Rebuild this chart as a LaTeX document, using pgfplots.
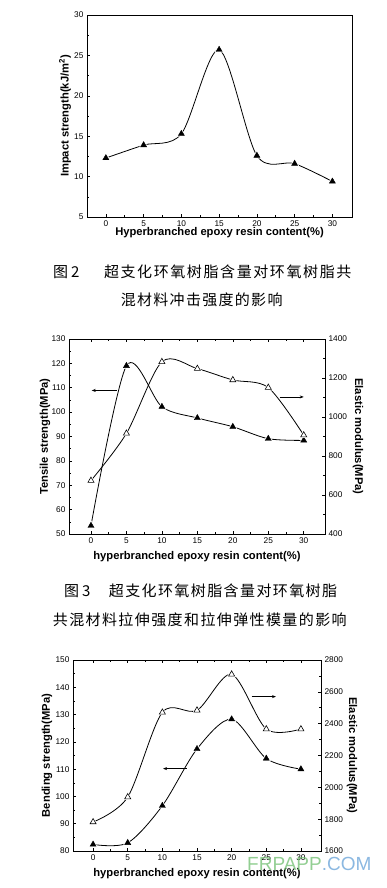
\documentclass[border=0pt]{standalone}
\usepackage{fontspec}
\setmainfont{Liberation Sans}
\newfontfamily\cjk{Noto Sans CJK SC}
\usepackage{pgfplots}
\usepackage{pgfplotstable}
\pgfplotsset{compat=1.18}
\usetikzlibrary{arrows.meta}

\newlength\pitch
\newcommand\cc[1]{\makebox[\pitch]{#1}}

\pgfplotstableread{
x y
0 12.3
5 13.9
10 15.3
15 25.7
20 12.6
25 11.6
30 9.4
}\impact

\pgfplotstableread{
x y
0 53.4
5 119.0
10 102.2
15 97.6
20 94.0
25 89.1
30 88.4
}\tensile

\pgfplotstableread{
x y
0 674
5 916
10 1283
15 1248
20 1190
25 1151
30 907
}\tmodulus

\pgfplotstableread{
x y
0 82.4
5 83.0
10 96.6
15 117.4
20 128.3
25 113.9
30 110.0
}\bending

\pgfplotstableread{
x y
0 1782
5 1939
10 2471
15 2484
20 2710
25 2366
30 2366
}\bmodulus

\pgfplotsset{
  base/.style={
    scale only axis, anchor=south west,
    tick align=inside, minor tick num=1,
    major tick length=3pt, minor tick length=1.8pt,
    /pgf/number format/assume math mode=true,
    /pgf/number format/set thousands separator={},
    tick label style={font=\fontsize{8.3}{9}\selectfont},
    label style={font=\fontsize{11.2}{13}\selectfont\bfseries},
    axis line style={line width=0.8pt},
    every tick/.style={line width=0.6pt, black},
    xtick={0,5,...,30},
  },
  curve/.style={black, line width=0.8pt, smooth, no marks},
  halo/.style={only marks, mark=triangle*, mark size=5pt, mark options={fill=white, draw=white}},
  filled/.style={only marks, mark=triangle*, mark size=3.5pt, mark options={fill=black, draw=black}},
  open/.style={only marks, mark=triangle*, mark size=3.5pt, mark options={fill=white, draw=black, line width=0.6pt}},
}

\begin{document}
\begin{tikzpicture}
\path[use as bounding box] (0,0) rectangle (387pt,-888pt);

% ---------- Chart 1 ----------
\begin{axis}[base,
  at={(87pt,-217pt)}, width=265pt, height=202pt,
  xmin=-2.5, xmax=32.6, ymin=5, ymax=30,
  ytick={5,10,...,30},
  xtick pos=bottom, ytick pos=left,
  xlabel={Hyperbranched epoxy resin content(\%)},
  ylabel={Impact strength(kJ/m\textsuperscript{2})},
  xlabel style={at={(axis description cs:0.5,-0.079)}, anchor=center},
  ylabel style={at={(axis description cs:-0.083,0.5)}, anchor=center},
]
\addplot[curve] table {\impact};
\addplot[halo] table {\impact};
\addplot[filled] table {\impact};
\end{axis}

\begin{scope}[every node/.style={inner sep=0pt, font=\cjk\fontsize{15}{17}\selectfont}]
\node[anchor=west] at (53pt,-272pt) {图\hspace{3pt}2};
\setlength\pitch{16.6pt}
\node[anchor=west] at (103pt,-272pt) {\cc{超}\cc{支}\cc{化}\cc{环}\cc{氧}\cc{树}\cc{脂}\cc{含}\cc{量}\cc{对}\cc{环}\cc{氧}\cc{树}\cc{脂}\cc{共}};
\setlength\pitch{16.3pt}
\node[anchor=west] at (120pt,-300pt) {\cc{混}\cc{材}\cc{料}\cc{冲}\cc{击}\cc{强}\cc{度}\cc{的}\cc{影}\cc{响}};
\end{scope}

% ---------- Chart 2 ----------
\begin{axis}[base,
  at={(69pt,-534pt)}, width=256pt, height=195pt,
  xmin=-3.1, xmax=33, ymin=50, ymax=130,
  ytick={50,60,...,130},
  ytick pos=left,
  xlabel={hyperbranched epoxy resin content(\%)},
  ylabel={Tensile strength(MPa)},
  xlabel style={at={(axis description cs:0.5,-0.118)}, anchor=center},
  ylabel style={at={(axis description cs:-0.094,0.5)}, anchor=center},
]
\addplot[curve] table {\tensile};
\addplot[halo] table {\tensile};
\addplot[filled] table {\tensile};
\draw[-{Stealth[length=4pt,width=3pt]}, line width=0.6pt] (axis cs:3.6,108.9) -- (axis cs:0.1,108.9);
\end{axis}
\begin{axis}[base,
  at={(69pt,-534pt)}, width=256pt, height=195pt,
  xmin=-3.1, xmax=33, ymin=400, ymax=1400,
  ytick={400,600,...,1400},
  axis y line*=right, axis x line=none,
  ylabel={Elastic modulus(MPa)},
  ylabel style={at={(axis description cs:1.129,0.5)}, anchor=center, rotate=180},
]
\addplot[curve] table {\tmodulus};
\addplot[halo] table {\tmodulus};
\addplot[open] table {\tmodulus};
\draw[-{Stealth[length=4pt,width=3pt]}, line width=0.6pt] (axis cs:26.6,1103) -- (axis cs:30,1103);
\end{axis}

\begin{scope}[every node/.style={inner sep=0pt, font=\cjk\fontsize{15}{17}\selectfont}]
\node[anchor=west] at (64pt,-591pt) {图\hspace{3pt}3};
\setlength\pitch{16.4pt}
\node[anchor=west] at (108pt,-591pt) {\cc{超}\cc{支}\cc{化}\cc{环}\cc{氧}\cc{树}\cc{脂}\cc{含}\cc{量}\cc{对}\cc{环}\cc{氧}\cc{树}\cc{脂}};
\setlength\pitch{16.4pt}
\node[anchor=west] at (52pt,-620pt) {\cc{共}\cc{混}\cc{材}\cc{料}\cc{拉}\cc{伸}\cc{强}\cc{度}\cc{和}\cc{拉}\cc{伸}\cc{弹}\cc{性}\cc{模}\cc{量}\cc{的}\cc{影}\cc{响}};
\end{scope}

% ---------- Chart 3 ----------
\begin{axis}[base,
  at={(73pt,-851pt)}, width=248pt, height=191pt,
  xmin=-2.9, xmax=32.9, ymin=80, ymax=150,
  ytick={80,90,...,150},
  ytick pos=left,
  xlabel={hyperbranched epoxy resin content(\%)},
  ylabel={Bending strength(MPa)},
  xlabel style={at={(axis description cs:0.5,-0.12)}, anchor=center},
  ylabel style={at={(axis description cs:-0.105,0.5)}, anchor=center},
]
\addplot[curve] table {\bending};
\addplot[halo] table {\bending};
\addplot[filled] table {\bending};
\draw[-{Stealth[length=4pt,width=3pt]}, line width=0.6pt] (axis cs:13.5,110.2) -- (axis cs:10.1,110.2);
\end{axis}
\begin{axis}[base,
  at={(73pt,-851pt)}, width=248pt, height=191pt,
  xmin=-2.9, xmax=32.9, ymin=1600, ymax=2800,
  ytick={1600,1800,...,2800},
  axis y line*=right, axis x line=none,
  ylabel={Elastic modulus(MPa)},
  ylabel style={at={(axis description cs:1.125,0.5)}, anchor=center, rotate=180},
]
\addplot[curve] table {\bmodulus};
\addplot[halo] table {\bmodulus};
\addplot[open] table {\bmodulus};
\draw[-{Stealth[length=4pt,width=3pt]}, line width=0.6pt] (axis cs:22.9,2570) -- (axis cs:26.4,2570);
\end{axis}

\node[anchor=west, inner sep=0pt, font=\fontsize{19}{21}\selectfont, opacity=0.75] at (247pt,-864pt)
  {\textcolor[RGB]{110,190,110}{FRPAPP}\textcolor[RGB]{100,160,215}{.COM}};
\end{tikzpicture}
\end{document}
